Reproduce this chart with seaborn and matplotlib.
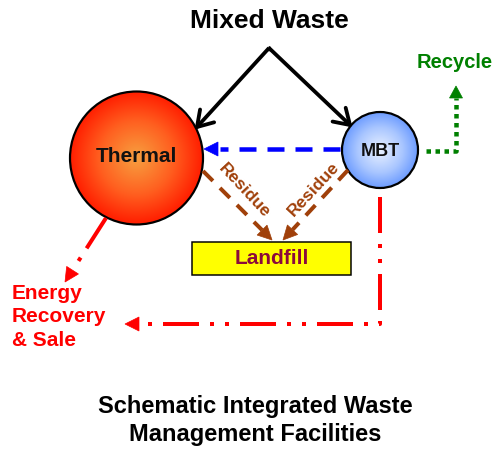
import numpy as np
import matplotlib
matplotlib.use("Agg")
import matplotlib.pyplot as plt
import seaborn as sns
from matplotlib.patches import Circle, Rectangle, Polygon
from matplotlib.colors import LinearSegmentedColormap

# ---- content ----
source_label = "Mixed Waste"
facilities = ["Thermal", "MBT"]
sink_label = "Landfill"
edge_label = "Residue"
outputs = ["Recycle", "Energy\nRecovery\n& Sale"]
caption = ["Schematic Integrated Waste", "Management Facilities"]

sns.set_style("white")
plt.rcParams["font.family"] = ["Liberation Sans", "DejaVu Sans"]
plt.rcParams["lines.scale_dashes"] = False

PX = 0.72  # points per pixel at 100 dpi

fig = plt.figure(figsize=(4.99, 4.5), dpi=100)
ax = fig.add_axes([0, 0, 1, 1])


def px(v):
    return v * PX


def head(tip, frm, length=13, width=14, color="k"):
    tip = np.array(tip, float); frm = np.array(frm, float)
    d = tip - frm; d /= np.hypot(*d)
    n = np.array([-d[1], d[0]])
    base = tip - d * length
    pts = [tip, base + n * width / 2, base - n * width / 2]
    ax.add_patch(Polygon(pts, closed=True, fc=color, ec=color, lw=0.5, zorder=6))
    return base


def open_head(tip, frm, length=14, width=16, color="k", lw=3):
    tip = np.array(tip, float); frm = np.array(frm, float)
    d = tip - frm; d /= np.hypot(*d)
    n = np.array([-d[1], d[0]])
    base = tip - d * length
    for s in (1, -1):
        p = base + s * n * width / 2
        ax.plot([p[0], tip[0]], [p[1], tip[1]], color=color, lw=px(lw),
                solid_capstyle="round", solid_joinstyle="miter", zorder=6)


def radial(cx, cy, r, colors, z=3):
    n = 300
    xs = np.linspace(-1, 1, n)
    X, Y = np.meshgrid(xs, xs)
    D = np.clip(np.sqrt(X ** 2 + Y ** 2), 0, 1)
    cmap = LinearSegmentedColormap.from_list("g", colors)
    im = ax.imshow(D, cmap=cmap, vmin=0, vmax=1, extent=(cx - r, cx + r, cy + r, cy - r),
                   origin="upper", aspect="auto", zorder=z, interpolation="bilinear")
    circ = Circle((cx, cy), r, fc="none", ec="black", lw=px(2.2), zorder=z + 1)
    ax.add_patch(circ)
    im.set_clip_path(circ)


# ---- nodes ----
thermal_c, thermal_r = (136.5, 158), 66.5
mbt_c, mbt_r = (380, 150), 38

radial(*thermal_c, thermal_r, [(0, "#F7A040"), (0.55, "#FF6020"), (1, "#FF1E00")])
radial(*mbt_c, mbt_r, [(0, "#EAF2FF"), (0.6, "#A9C6FF"), (1, "#6D9CFF")])

ax.text(thermal_c[0], thermal_c[1] - 1, facilities[0], ha="center", va="center",
        fontsize=15, fontweight="bold", color="#111111", zorder=8)
ax.text(mbt_c[0], mbt_c[1] + 1, facilities[1], ha="center", va="center",
        fontsize=13, fontweight="bold", color="#111111", zorder=8)

# landfill box
ax.add_patch(Rectangle((192, 242), 159, 33, fc="#FFFF00", ec="black", lw=px(1.5), zorder=3))
ax.text(271.5, 259, sink_label, ha="center", va="center", fontsize=15,
        fontweight="bold", color="#8B0A3C", zorder=8)

# title / caption
ax.text(269, 21, source_label, ha="center", va="center", fontsize=19, fontweight="bold", color="black")
ax.text(255, 407, caption[0], ha="center", va="center", fontsize=17, fontweight="bold", color="black")
ax.text(255, 435, caption[1], ha="center", va="center", fontsize=17, fontweight="bold", color="black")

# ---- black arrows from Mixed Waste ----
apex = (269, 48)
for tip in [(197, 127), (350, 125)]:
    ax.plot([apex[0], tip[0]], [apex[1], tip[1]], color="black", lw=px(3.8),
            solid_capstyle="butt", solid_joinstyle="miter", zorder=5)
    open_head(tip, apex, length=15, width=19, lw=3.8)
ax.plot([apex[0]], [apex[1]], marker="^", ms=px(4), color="black", zorder=5)

# ---- blue dashed MBT -> Thermal ----
b = head((204, 149), (340, 149), length=14, width=14, color="#0000FF")
ax.plot([340, b[0] + 2], [149, 149], color="#0000FF", lw=px(4.5),
        dashes=(px(17), px(11)), dash_capstyle="butt", zorder=5)

# ---- brown residue arrows ----
brown = "#A0400A"
for start, tip in [((203, 171), (272, 240)), ((348, 170), (283, 240))]:
    b = head(tip, start, length=14, width=14, color=brown)
    ax.plot([start[0], b[0]], [start[1], b[1]], color=brown, lw=px(4),
            dashes=(px(14), px(10)), dash_capstyle="butt", zorder=5)
ax.text(244, 191, edge_label, rotation=-47, ha="center", va="center", fontsize=12.5,
        fontweight="bold", color=brown, rotation_mode="anchor")
ax.text(314, 189, edge_label, rotation=47, ha="center", va="center", fontsize=12.5,
        fontweight="bold", color=brown, rotation_mode="anchor")

# ---- green dotted recycle ----
green = "#008000"
b = head((456, 86), (456, 150), length=12, width=13, color=green)
ax.plot([426, 456, 456], [151, 151, b[1]], color=green, lw=px(4.5),
        dashes=(px(4.5), px(4.5)), dash_capstyle="butt", solid_joinstyle="miter", zorder=5)
ax.text(455, 62, outputs[0], ha="center", va="center", fontsize=14.5,
        fontweight="bold", color=green)

# ---- red dash-dot-dot energy recovery ----
red = "#FF0000"
ddd = (px(36), px(11), px(4), px(11), px(4), px(11))
b = head((65, 282), (106, 218), length=14, width=14, color=red)
ax.plot([106, b[0]], [218, b[1]], color=red, lw=px(4), dashes=ddd,
        dash_capstyle="butt", zorder=5)
b = head((125, 324), (380, 324), length=14, width=14, color=red)
ax.plot([380, 380, b[0]], [197, 324, 324], color=red, lw=px(4), dashes=ddd,
        dash_capstyle="butt", solid_joinstyle="miter", zorder=5)
ax.text(12, 317, outputs[1], ha="left", va="center", fontsize=15, fontweight="bold",
        color=red, linespacing=1.32)

ax.set_xlim(0, 499)
ax.set_ylim(450, 0)
ax.axis("off")
fig.savefig("out.png", dpi=100, facecolor="white")
